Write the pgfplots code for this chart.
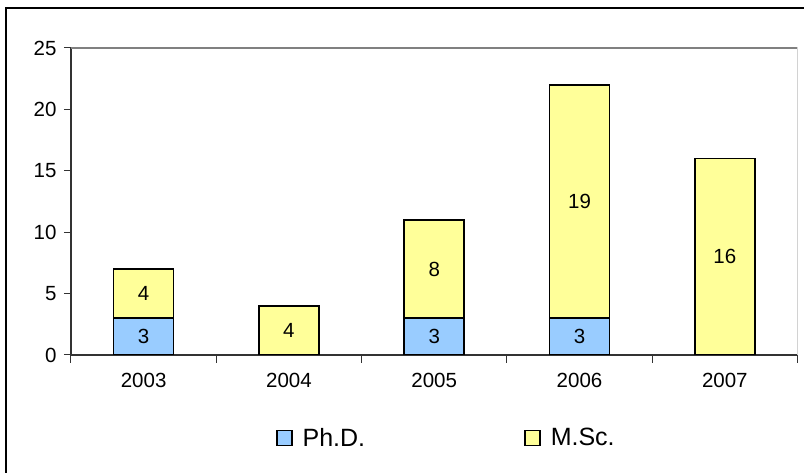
\documentclass[border=0pt]{standalone}
\usepackage{pgfplots}
\pgfplotsset{compat=1.18}
\usepackage{fontspec}
\setmainfont{Liberation Sans}
\definecolor{phd}{HTML}{99CCFF}
\definecolor{msc}{HTML}{FFFF99}
\begin{document}
\begin{tikzpicture}[x=1pt,y=1pt]
\useasboundingbox (0,0) rectangle (804,473);
\clip (0,0) rectangle (804,473);
\draw[black, line width=2pt] (6,-20) rectangle (840,465);
\begin{axis}[
  scale only axis, width=726.5pt, height=307pt,
  at={(71pt,118pt)}, anchor=south west,
  xmin=-0.5, xmax=4.5, ymin=0, ymax=25,
  axis lines=left, axis line style={-, line width=1.2pt, draw=black!80},
  tick align=outside,
  xtick={0,1,2,3,4}, xticklabels={2003,2004,2005,2006,2007},
  major x tick style={draw=none},
  minor xtick={-0.5,0.5,1.5,2.5,3.5,4.5},
  minor x tick style={line width=1pt, draw=black!80},
  minor tick length=8pt,
  ytick={0,5,10,15,20,25},
  major tick length=7pt,
  y tick style={line width=1pt, draw=black!80},
  /pgf/number format/assume math mode=true,
  tick label style={font=\fontsize{20.5}{24}\selectfont},
  xticklabel style={yshift=-8pt},
  yticklabel style={xshift=-4pt},
  legend columns=2,
  legend style={draw=none, fill=none, inner sep=0pt,
    font=\fontsize{25}{28}\selectfont,
    at={(axis description cs:0.282,-0.27)}, anchor=west,
    /tikz/every odd column/.append style={column sep=8pt},
    /tikz/every even column/.append style={column sep=157pt}},
  legend image code/.code={\draw[#1] (0pt,-7.5pt) rectangle (15pt,7.5pt);},
  reverse legend,
]
% M.Sc. drawn at total height (Ph.D. + M.Sc.), Ph.D. overlaid at bottom
\addplot[ybar, bar width=60pt, bar shift=0pt, fill=msc, draw=black, line width=1.6pt]
  coordinates {(0,7) (1,4) (2,11) (3,22) (4,16)};
\addlegendentry{M.Sc.}
\addplot[ybar, bar width=60pt, bar shift=0pt, fill=phd, draw=black, line width=1.6pt]
  coordinates {(0,3) (2,3) (3,3)};
\addlegendentry{Ph.D.}
\addplot[draw=none, mark=none, forget plot, nodes near coords, point meta=explicit symbolic,
  every node near coord/.append style={anchor=center, font=\fontsize{20.5}{24}\selectfont}]
  coordinates {(0,1.5)[3] (0,5)[4] (1,2)[4] (2,1.5)[3] (2,7)[8] (3,1.5)[3] (3,12.5)[19] (4,8)[16]};
\draw[gray, line width=1.2pt] (rel axis cs:0,1) -- (rel axis cs:1,1) -- (rel axis cs:1,0);
\end{axis}
\end{tikzpicture}
\end{document}
